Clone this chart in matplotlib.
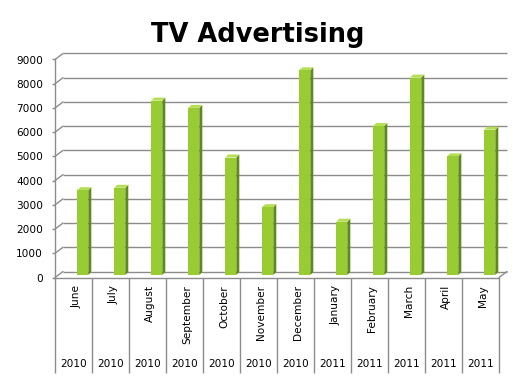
import matplotlib
matplotlib.use("Agg")
import matplotlib.pyplot as plt
import matplotlib.transforms as mtransforms
from matplotlib.patches import Polygon

months = ["June", "July", "August", "September", "October", "November",
          "December", "January", "February", "March", "April", "May"]
years = ["2010", "2010", "2010", "2010", "2010", "2010",
         "2010", "2011", "2011", "2011", "2011", "2011"]
spend = [3500, 3600, 7200, 6900, 4850, 2800,
         8450, 2200, 6150, 8150, 4900, 6000]
y_ticks = [0, 1000, 2000, 3000, 4000, 5000, 6000, 7000, 8000, 9000]

W, H = 527, 388
DX, DY = 8, 6          # depth of the back wall, pixels
grid_col = "#8c8c8c"
front_col = "#99CC33"
side_col = "#5E8A1C"
top_col = "#B5DE55"

plt.rcParams["font.family"] = ["DejaVu Sans"]
fig = plt.figure(figsize=(W / 100, H / 100), dpi=100)
ax = fig.add_axes([55 / W, (H - 277.5) / H, 444 / W, 218 / H])
ax.set_xlim(0, len(months))
ax.set_ylim(0, 9000)

for s in ["top", "right"]:
    ax.spines[s].set_visible(False)
for s in ["left", "bottom"]:
    ax.spines[s].set_color(grid_col)
    ax.spines[s].set_linewidth(1)
ax.set_xticks([])
ax.set_yticks(y_ticks)
ax.set_yticklabels([str(v) for v in y_ticks])
ax.tick_params(axis="y", length=2.2, width=1, color=grid_col, pad=6.5,
               labelsize=7.6)

# back wall gridlines + left wall diagonals
back = mtransforms.offset_copy(ax.transData, fig=fig, x=DX, y=DY, units="dots")
ax.hlines(y_ticks, 0, len(months), colors=grid_col, lw=1, transform=back,
          clip_on=False, zorder=1)
for v in y_ticks:
    ax.annotate("", xy=(0, v), xytext=(DX, DY), textcoords="offset pixels",
                arrowprops=dict(arrowstyle="-", color=grid_col, lw=1,
                                shrinkA=0, shrinkB=0), annotation_clip=False)
ax.annotate("", xy=(len(months), 0), xytext=(DX, DY), textcoords="offset pixels",
            arrowprops=dict(arrowstyle="-", color=grid_col, lw=1,
                            shrinkA=0, shrinkB=0), annotation_clip=False)

# bars (front face through the data scale, lifted half the depth)
bar_w = 0.3
xs = [i + 0.75 for i in range(len(months))]
lift = mtransforms.offset_copy(ax.transData, fig=fig, x=0, y=2.5, units="dots")
ax.bar(xs, spend, width=bar_w, color=front_col, transform=lift, zorder=3,
       clip_on=False)

d = 3
for x, v in zip(xs, spend):
    (xl, y0), = ax.transData.transform([(x - bar_w / 2, 0)])
    (xr, yt), = ax.transData.transform([(x + bar_w / 2, v)])
    y0 += 2.5
    yt += 2.5
    side = Polygon([(xr, y0), (xr + d, y0 + d), (xr + d, yt + d), (xr, yt)],
                   closed=True, facecolor=side_col, edgecolor="none",
                   transform=mtransforms.IdentityTransform(), clip_on=False,
                   zorder=2.5)
    top = Polygon([(xl, yt), (xl + d, yt + d), (xr + d, yt + d), (xr, yt)],
                  closed=True, facecolor=top_col, edgecolor="none",
                  transform=mtransforms.IdentityTransform(), clip_on=False,
                  zorder=2.5)
    ax.add_patch(side)
    ax.add_patch(top)

# category table below the floor
xt = ax.get_xaxis_transform()
ax.vlines(range(len(months) + 1), -0.438, 0, colors=grid_col, lw=1,
          transform=xt, clip_on=False)
for i, (m, yr) in enumerate(zip(months, years)):
    ax.text(i + 0.57, -0.034, m, rotation=90, ha="center", va="top",
            fontsize=7.6, transform=xt)
    ax.text(i + 0.5, -0.397, yr, ha="center", va="center", fontsize=7.6,
            transform=xt)

fig.text(258 / W, (H - 41.7) / H, "TV Advertising", ha="center",
         va="baseline", fontsize=18.5, fontweight="bold")

fig.savefig("out.png", dpi=100)
